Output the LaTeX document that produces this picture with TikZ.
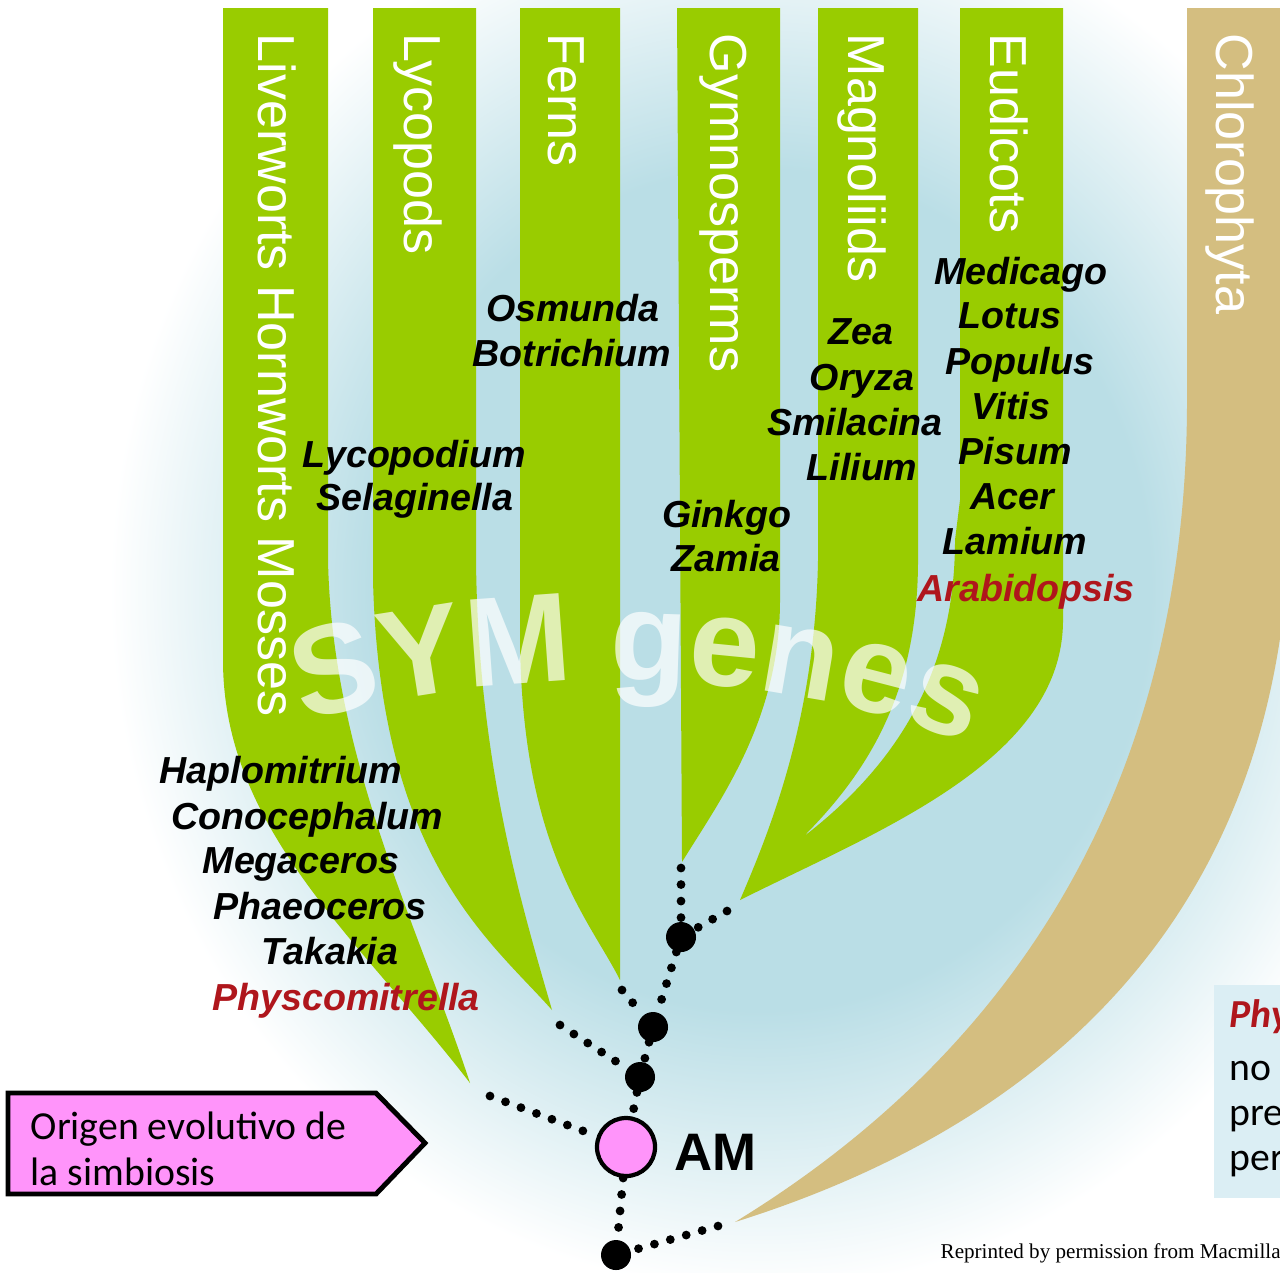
\documentclass[tikz,border=0pt]{standalone}
\usepackage{fontspec}
\setmainfont{Liberation Sans}
\newfontfamily\calibri{Carlito}
\newfontfamily\timesrm{Liberation Serif}
\usetikzlibrary{positioning,decorations.text}
\definecolor{leafgreen}{RGB}{153,204,0}
\definecolor{algatan}{RGB}{212,190,128}
\definecolor{glowblue}{RGB}{186,222,230}
\definecolor{taxred}{RGB}{175,22,28}
\definecolor{callpink}{RGB}{255,148,250}
\definecolor{boxblue}{RGB}{219,238,244}
\pgfdeclareradialshading{glow}{\pgfpointorigin}{color(0bp)=(glowblue); color(15bp)=(glowblue); color(25bp)=(white); color(50bp)=(white)}
\def\Taxon[#1] at (#2,#3) #4;{\node[taxon,#1] (#4) at (#2,#3) {#4};}

\begin{document}
\begin{tikzpicture}[x=0.01cm, y=-0.01cm,
    branch/.style={fill=leafgreen},
    cladelabel/.style={rotate=-90, anchor=base west, inner sep=0pt, text=white, font=\fontsize{14.8}{16}\selectfont},
    taxon/.style={anchor=base, inner sep=0pt, font=\fontsize{10.7}{12}\selectfont\bfseries\itshape},
    bigdot/.style={circle, fill=black, inner sep=0pt, minimum size=0.3cm},
    amdot/.style={circle, fill=callpink, draw=black, line width=1.2pt, inner sep=0pt, minimum size=0.58cm},
    dotline/.style={line width=2.5pt, line cap=round, dash pattern=on 0pt off 4.7pt},
    boxtext/.style={anchor=base west, inner sep=0pt, font=\calibri\fontsize{11.3}{13}\selectfont}]
    \useasboundingbox (0,0) rectangle (1280,1272);
    \clip (0,0) rectangle (1280,1272);
    \fill[white] (0,0) rectangle (1280,1272);
    \shade[shading=glow] (760,590) ellipse [x radius=6.5cm, y radius=7cm];

    % branches
    \fill[algatan] (1187,8) -- (1300,8) -- (1290,500) .. controls (1290,900) and (1060,1120) .. (735,1222)
        .. controls (1000,1060) and (1187,800) .. (1187,400) -- cycle;
    \fill[branch] (223,8) -- (328,8) -- (328,560) .. controls (332,760) and (420,930) .. (470,1083)
        .. controls (360,940) and (223,830) .. (223,660) -- cycle;
    \fill[branch] (373,8) -- (476,8) -- (476,560) .. controls (478,760) and (520,900) .. (552,1010)
        .. controls (490,940) and (380,860) .. (373,580) -- cycle;
    \fill[branch] (520,8) -- (620,8) -- (620,980) .. controls (590,920) and (522,850) .. (520,640) -- cycle;
    \fill[branch] (677,8) -- (780,8) -- (780,600) .. controls (780,720) and (720,800) .. (682,862) -- cycle;
    \fill[branch] (960,8) -- (1063,8) -- (1063,620) .. controls (1063,760) and (880,830) .. (740,900)
        .. controls (770,830) and (815,720) .. (818,560) -- (818,8) -- (918,8) -- (918,560)
        .. controls (918,690) and (870,770) .. (803,837) .. controls (890,770) and (955,680) .. (955,540)
        -- (960,500) -- cycle;

    \begin{scope}[opacity=0.7]
        \path[decorate, decoration={text along path, text align=center, text color=white,
            text={|\fontsize{36}{36}\selectfont\bfseries|SYM genes}}]
            (288,728) .. controls (480,662) and (790,660) .. (982,752);
    \end{scope}

    \node[cladelabel] (liver) at (258,33) {Liverworts Hornworts Mosses};
    \node[cladelabel] (lyco) at (404,33) {Lycopods};
    \node[cladelabel] (ferns) at (548,33) {Ferns};
    \node[cladelabel] (gymno) at (710,33) {Gymnosperms};
    \node[cladelabel] (magno) at (848,33) {Magnoliids};
    \node[cladelabel] (eudi) at (990,33) {Eudicots};
    \node[cladelabel] (chloro) at (1216,33) {Chlorophyta};

    \Taxon[] at (573,321) Osmunda;
    \Taxon[] at (572,366) Botrichium;
    \Taxon[] at (414,467) Lycopodium;
    \Taxon[] at (415,510) Selaginella;
    \Taxon[] at (727,527) Ginkgo;
    \Taxon[] at (726,571) Zamia;
    \Taxon[] at (861,344) Zea;
    \Taxon[] at (862,390) Oryza;
    \Taxon[] at (855,435) Smilacina;
    \Taxon[] at (862,480) Lilium;
    \Taxon[] at (1021,284) Medicago;
    \Taxon[] at (1010,328) Lotus;
    \Taxon[] at (1020,374) Populus;
    \Taxon[] at (1011,419) Vitis;
    \Taxon[] at (1015,464) Pisum;
    \Taxon[] at (1012,509) Acer;
    \Taxon[] at (1015,554) Lamium;
    \Taxon[text=taxred] at (1026,601) Arabidopsis;
    \Taxon[] at (281,783) Haplomitrium;
    \Taxon[] at (307,829) Conocephalum;
    \Taxon[] at (301,873) Megaceros;
    \Taxon[] at (320,919) Phaeoceros;
    \Taxon[] at (330,964) Takakia;
    \Taxon[text=taxred] at (346,1010) Physcomitrella;

    % tree root
    \coordinate (gymtip) at (681,868);
    \coordinate (angtip) at (727,911);
    \coordinate (ferntip) at (622,990);
    \coordinate (lyctip) at (560,1025);
    \coordinate (livtip) at (490,1096);
    \coordinate (chltip) at (718,1226);
    \node[bigdot] (gymdot) at (681,937) {};
    \node[bigdot] (ferndot) at (653,1027) {};
    \node[bigdot] (lycdot) at (640,1077) {};
    \node[amdot] (am) at (626,1147) {};
    \node[bigdot] (rootdot) at (616,1255) {};
    \node[right=0pt of am, xshift=1.5pt, yshift=-1.4pt, font=\fontsize{15}{16}\selectfont\bfseries] (amtext) {AM};
    \draw[dotline] (gymtip) -- (gymdot);
    \draw[dotline] (angtip) -- (gymdot);
    \draw[dotline] (gymdot) -- (ferndot);
    \draw[dotline] (ferntip) -- (ferndot);
    \draw[dotline] (ferndot) -- (lycdot);
    \draw[dotline] (lyctip) -- (lycdot);
    \draw[dotline] (lycdot) -- (am);
    \draw[dotline] (livtip) -- (am);
    \draw[dotline] (am) -- (rootdot);
    \draw[dotline] (chltip) -- (rootdot);

    % callout and side box
    \draw[fill=callpink, line width=1.4pt] (8,1093) -- (376,1093) -- (425,1143) -- (376,1194) -- (8,1194) -- cycle;
    \node[boxtext] (origen1) at (30,1139) {Origen evolutivo de};
    \node[boxtext] (origen2) at (30,1185) {la simbiosis};
    \fill[boxblue] (1214,985) rectangle (1290,1198);
    \node[boxtext, text=taxred, font=\calibri\fontsize{11.3}{13}\selectfont\bfseries\itshape] (phy) at (1229,1027) {Phy};
    \node[boxtext] (no) at (1229,1080) {no};
    \node[boxtext] (pre) at (1229,1125) {pre};
    \node[boxtext] (per) at (1229,1170) {per};
    \node[anchor=base west, inner sep=0pt, font=\timesrm\fontsize{6}{7}\selectfont] (reprint) at (940,1258) {Reprinted by permission from Macmilla};
\end{tikzpicture}
\end{document}
